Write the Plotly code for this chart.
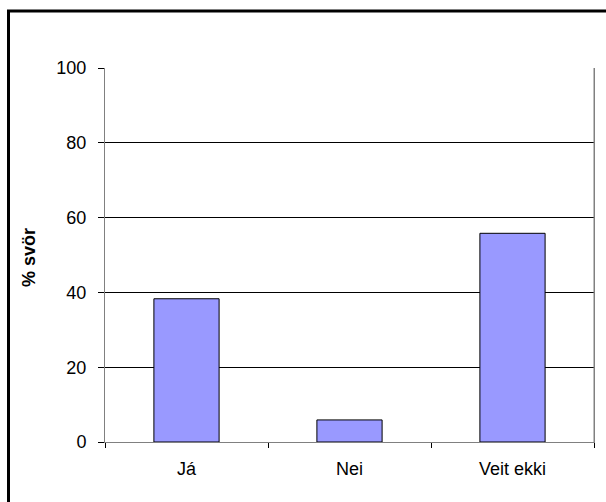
import plotly.graph_objects as go

# Survey answers and share of responses (%)
categories = ["Já", "Nei", "Veit ekki"]
values = [38.3, 5.9, 55.8]
y_ticks = [0, 20, 40, 60, 80, 100]

W, H = 606, 502
ML, MR, MT, MB = 105, 12, 68, 60
FONT = "Liberation Sans, Arial, sans-serif"
FS = 18

fig = go.Figure(
    go.Bar(
        x=categories,
        y=values,
        width=0.4,
        marker=dict(color="#9999FF", line=dict(color="#000000", width=1)),
        hoverinfo="skip",
    )
)

pw = W - ML - MR
ph = H - MT - MB

fig.update_layout(
    width=W,
    height=H,
    margin=dict(l=ML, r=MR, t=MT, b=MB, pad=0),
    paper_bgcolor="white",
    plot_bgcolor="white",
    showlegend=False,
    font=dict(family=FONT, size=FS, color="#000000"),
    xaxis=dict(
        type="category",
        range=[-0.5, 2.5],
        showline=True,
        linecolor="#808080",
        linewidth=1,
        ticks="outside",
        tickson="boundaries",
        ticklen=5,
        tickcolor="#000000",
        showgrid=False,
        zeroline=False,
        ticklabelstandoff=10,
        tickfont=dict(size=FS),
    ),
    yaxis=dict(
        range=[0, 100],
        tickvals=y_ticks,
        showline=True,
        linecolor="#808080",
        linewidth=1,
        mirror=True,
        ticks="outside",
        ticklen=6,
        tickcolor="#000000",
        showgrid=True,
        gridcolor="#000000",
        gridwidth=1,
        zeroline=False,
        ticklabelstandoff=8,
        tickfont=dict(size=FS),
    ),
    annotations=[
        dict(
            text="<b>% svör</b>",
            textangle=-90,
            xref="paper",
            yref="paper",
            x=(29 - ML) / pw,
            y=(H - MB - 258) / ph,
            xanchor="center",
            yanchor="middle",
            showarrow=False,
            font=dict(family=FONT, size=FS, color="#000000"),
        )
    ],
    shapes=[
        # Outer frame around the whole chart (runs off the right and bottom edges)
        dict(
            type="rect",
            xref="paper",
            yref="paper",
            x0=(8.5 - ML) / pw,
            x1=(W + 20 - ML) / pw,
            y0=-(MB + 20) / ph,
            y1=(H - MB - 11) / ph,
            line=dict(color="#000000", width=3),
            fillcolor="rgba(0,0,0,0)",
            layer="above",
        ),
        # Right plot-area border
        dict(
            type="line", xref="paper", yref="paper",
            x0=1, x1=1, y0=0, y1=1,
            line=dict(color="#808080", width=1),
        ),
    ],
)

fig.write_html("out.html")
